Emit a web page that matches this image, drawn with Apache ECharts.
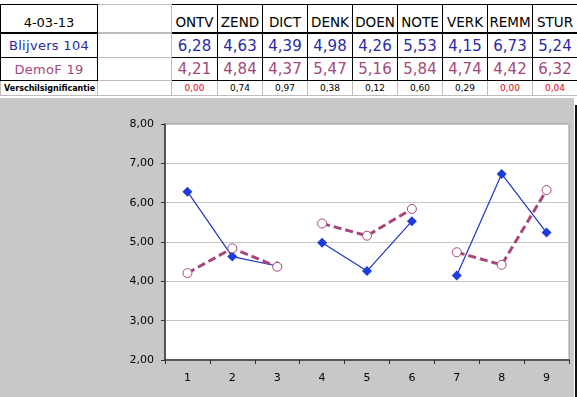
<!DOCTYPE html>
<html>
<head>
<meta charset="utf-8">
<script src="https://cdn.jsdelivr.net/npm/echarts@6/dist/echarts.min.js"></script>
<style>
	html, body { margin: 0; padding: 0; background: #fff; }
	body { width: 577px; height: 397px; position: relative; overflow: hidden; font-family: "DejaVu Sans", Verdana, sans-serif; }
	#scores { position: absolute; left: 0; top: 4px; width: 577px; border-collapse: collapse; table-layout: fixed; }
	#scores td { padding: 0; text-align: center; white-space: nowrap; overflow: hidden; }
	#scores tr.head td { height: 25px; font-size: 13.5px; vertical-align: bottom; padding-bottom: 2px; border: 1px solid #000; border-bottom: 2px solid #000; }
	#scores tr.val td { font-size: 15px; border: 1px solid #000; }
	#scores tr.r1 td { height: 23px; color: #2a2aa6; }
	#scores tr.r2 td { height: 22px; color: #a4477b; }
	#scores tr.sig td { height: 14px; font-size: 9px; border: 1px solid #bdbdbd; color: #000; }
	#scores tr.val td.lbl { font-size: 13px; letter-spacing: 0.3px; }
	#scores td.blank { border-color: #bdbdbd !important; }
	#scores tr.sig td.lbl { font-size: 8px; font-weight: bold; text-align: left; padding-left: 3px; }
	#scores td.low { color: #e8001c !important; }
	#chart { position: absolute; left: 0; top: 98px; width: 574px; height: 299px; background: #c8c8c8; }
	#edge { position: absolute; left: 575px; top: 105px; width: 2px; height: 292px; background: #111; }
</style>
</head>
<body>
<table id="scores"></table>
<div id="chart"></div>
<div id="edge"></div>
<script>
	var dateLabel = '4-03-13';
	var scales = ['ONTV', 'ZEND', 'DICT', 'DENK', 'DOEN', 'NOTE', 'VERK', 'REMM', 'STUR'];
	var categories = ['1', '2', '3', '4', '5', '6', '7', '8', '9'];
	var blijversName = 'Blijvers 104';
	var blijvers = [6.28, 4.63, 4.39, 4.98, 4.26, 5.53, 4.15, 6.73, 5.24];
	var demofName = 'DemoF 19';
	var demof = [4.21, 4.84, 4.37, 5.47, 5.16, 5.84, 4.74, 4.42, 6.32];
	var sigName = 'Verschilsignificantie';
	var significance = [0.00, 0.74, 0.97, 0.38, 0.12, 0.60, 0.29, 0.00, 0.04];
	var groups = [[0, 3], [3, 6], [6, 9]];

	function comma(v) { return v.toFixed(2).replace('.', ','); }

	/*Table*/
	var widths = [97, 74, 46, 45, 45, 45, 45, 45, 45, 45, 45];
	var html = '<colgroup>' + widths.map(function (w) { return '<col style="width:' + w + 'px">'; }).join('') + '</colgroup>';
	html += '<tr class="head"><td style="font-size:13px">' + dateLabel + '</td><td class="blank"></td>' +
		scales.map(function (s) { return '<td>' + s + '</td>'; }).join('') + '</tr>';
	html += '<tr class="val r1"><td class="lbl">' + blijversName + '</td><td class="blank"></td>' +
		blijvers.map(function (v) { return '<td>' + comma(v) + '</td>'; }).join('') + '</tr>';
	html += '<tr class="val r2"><td class="lbl">' + demofName + '</td><td class="blank"></td>' +
		demof.map(function (v) { return '<td>' + comma(v) + '</td>'; }).join('') + '</tr>';
	html += '<tr class="sig"><td class="lbl">' + sigName + '</td><td></td>' +
		significance.map(function (v) { return '<td' + (v < 0.05 ? ' class="low"' : '') + '>' + comma(v) + '</td>'; }).join('') + '</tr>';
	document.getElementById('scores').innerHTML = html;

	/*Chart*/
	function part(values, g) {
		return values.map(function (v, i) { return (i >= g[0] && i < g[1]) ? v : '-'; });
	}

	var series = [];
	groups.forEach(function (g) {
		series.push({
			name: blijversName,
			type: 'line',
			data: part(blijvers, g),
			symbol: 'diamond',
			symbolSize: 10,
			lineStyle: { color: '#1f33c8', width: 1.2 },
			itemStyle: { color: '#1f3bdc' },
			z: 2
		});
	});
	groups.forEach(function (g) {
		series.push({
			name: demofName,
			type: 'line',
			data: part(demof, g),
			symbol: 'circle',
			symbolSize: 9,
			lineStyle: { color: '#a8467c', width: 3, type: [8, 4] },
			itemStyle: { color: '#fff', borderColor: '#a8467c', borderWidth: 1 },
			z: 3
		});
	});

	var chart = echarts.init(document.getElementById('chart'));
	chart.setOption({
		animation: false,
		grid: {
			top: 26,
			bottom: 37,
			left: 165,
			right: 5,
			show: true,
			backgroundColor: '#fff',
			borderColor: '#9a9a9a',
			borderWidth: 1
		},
		xAxis: {
			type: 'category',
			data: categories,
			boundaryGap: true,
			axisLine: { lineStyle: { color: '#333', width: 1.5 } },
			axisTick: { show: true, length: 4, inside: false, lineStyle: { color: '#333' } },
			axisLabel: { fontSize: 11, color: '#000', margin: 13, fontFamily: 'DejaVu Sans' },
			splitLine: { show: false }
		},
		yAxis: {
			type: 'value',
			min: 2,
			max: 8,
			interval: 1,
			axisLine: { show: true, lineStyle: { color: '#333', width: 1.5 } },
			axisTick: { show: true, length: 4, inside: false, lineStyle: { color: '#333' } },
			axisLabel: { fontSize: 11, color: '#000', margin: 11, fontFamily: 'DejaVu Sans', formatter: comma },
			splitLine: { lineStyle: { color: '#c6c6c6', width: 1 } }
		},
		series: series
	});
</script>
</body>
</html>
